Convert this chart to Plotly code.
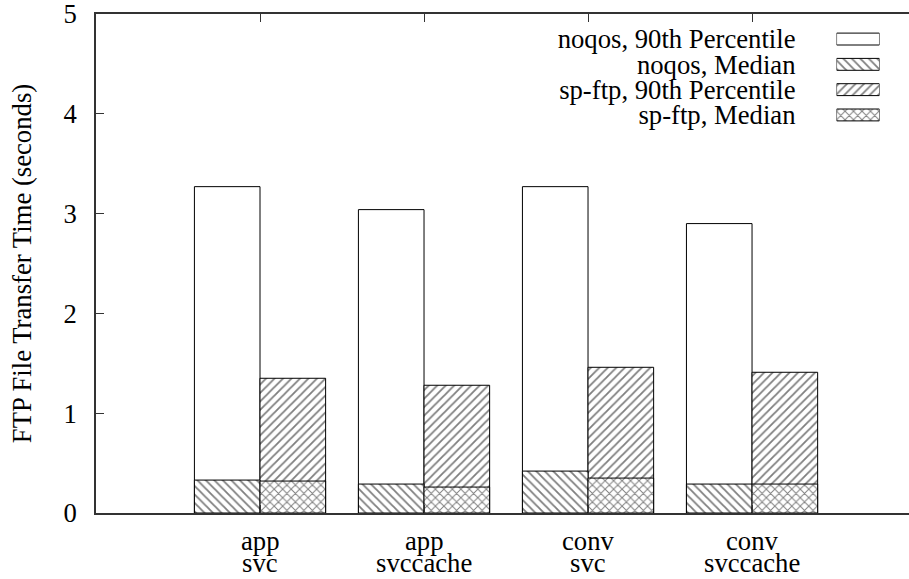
import plotly.graph_objects as go

# Categories: configuration / cache mode
configs = ["app", "app", "conv", "conv"]
modes = ["svc", "svccache", "svc", "svccache"]

# FTP transfer times (seconds)
noqos_p90 = [3.27, 3.04, 3.27, 2.90]
noqos_median = [0.33, 0.29, 0.42, 0.29]
spftp_p90 = [1.35, 1.28, 1.46, 1.41]
spftp_median = [0.32, 0.26, 0.35, 0.29]

series_names = [
    "noqos, 90th Percentile",
    "noqos, Median",
    "sp-ftp, 90th Percentile",
    "sp-ftp, Median",
]
y_ticks = [0, 1, 2, 3, 4, 5]

FONT = "Liberation Serif, Times New Roman, DejaVu Serif, serif"
FS = 26.7
AXC = "#333333"

idx = list(range(len(configs)))


def pattern(shape):
    return dict(shape=shape, size=6, solidity=0.3, fgcolor="black", bgcolor="white")


styles = [
    dict(color="white", line=dict(color="black", width=1)),
    dict(color="white", line=dict(color="black", width=1), pattern=pattern("\\")),
    dict(color="white", line=dict(color="black", width=1), pattern=pattern("/")),
    dict(color="white", line=dict(color="black", width=1), pattern=pattern("x")),
]

fig = go.Figure()

# noqos bars sit left of each group centre, sp-ftp bars right of it;
# medians are drawn over the 90th percentile bars.
bar_specs = [
    (noqos_p90, -0.4, 0),
    (spftp_p90, 0.0, 2),
    (noqos_median, -0.4, 1),
    (spftp_median, 0.0, 3),
]
for vals, off, k in bar_specs:
    fig.add_trace(go.Bar(
        x=idx, y=vals, offset=off, width=0.4, opacity=1,
        marker=styles[k], name=series_names[k], showlegend=False,
        hoverinfo="skip",
    ))

# Key: short horizontal swatches on a small auxiliary axis, names as its tick labels
for k, name in enumerate(series_names):
    fig.add_trace(go.Bar(
        x=[1], y=[name], orientation="h", width=0.47, opacity=1,
        marker=styles[k], showlegend=False, hoverinfo="skip",
        xaxis="x2", yaxis="y2",
    ))

# Two-line category labels under each group
for i in idx:
    fig.add_annotation(x=i, y=0, xref="x", yref="y", text=configs[i],
                       showarrow=False, yanchor="middle", yshift=-28,
                       font=dict(family=FONT, size=FS, color="black"))
    fig.add_annotation(x=i, y=0, xref="x", yref="y", text=modes[i],
                       showarrow=False, yanchor="middle", yshift=-50,
                       font=dict(family=FONT, size=FS, color="black"))

W, H = 909, 579
L, T, B = 96, 14, 66
ph = H - T - B


def py(px):
    return (H - B - px) / ph


fig.update_layout(
    width=W, height=H,
    margin=dict(l=L, r=0, t=T, b=B, pad=0),
    paper_bgcolor="white", plot_bgcolor="white",
    barmode="overlay",
    font=dict(family=FONT, size=FS, color="black"),
    hovermode=False,
    xaxis=dict(
        range=[-1, 3.957], tickvals=idx, showticklabels=False,
        ticks="inside", ticklen=8, tickcolor=AXC, tickwidth=1,
        showline=True, linecolor=AXC, linewidth=1.5, mirror="ticks",
        showgrid=False, zeroline=False,
    ),
    yaxis=dict(
        range=[0, 5], tickvals=y_ticks, ticklabeloverflow="allow",
        ticks="inside", ticklen=8, tickcolor=AXC, tickwidth=1,
        showline=True, linecolor=AXC, linewidth=1.5, mirror=False,
        showgrid=False, zeroline=False, ticklabelstandoff=12,
        tickfont=dict(family=FONT, size=FS),
        title=dict(text="FTP File Transfer Time (seconds)", standoff=24,
                   font=dict(family=FONT, size=FS)),
    ),
    yaxis3=dict(
        range=[0, 5], tickvals=y_ticks, overlaying="y", side="right",
        anchor="x", showline=False, ticks="inside", ticklen=3,
        tickcolor=AXC, showticklabels=False, showgrid=False, zeroline=False,
    ),
    xaxis2=dict(
        domain=[828 / W, 876 / W], range=[0, 1], anchor="y2",
        showline=False, showticklabels=False, showgrid=False, zeroline=False,
        ticks="",
    ),
    yaxis2=dict(
        domain=[py(127.6), py(26.4)], anchor="x2", type="category",
        categoryorder="array", categoryarray=series_names, autorange="reversed",
        tickmode="array", tickvals=series_names, ticktext=series_names,
        showline=False, ticks="", showgrid=False, zeroline=False,
        ticklabelstandoff=40, tickfont=dict(family=FONT, size=FS),
    ),
)

fig.write_html("out.html")
